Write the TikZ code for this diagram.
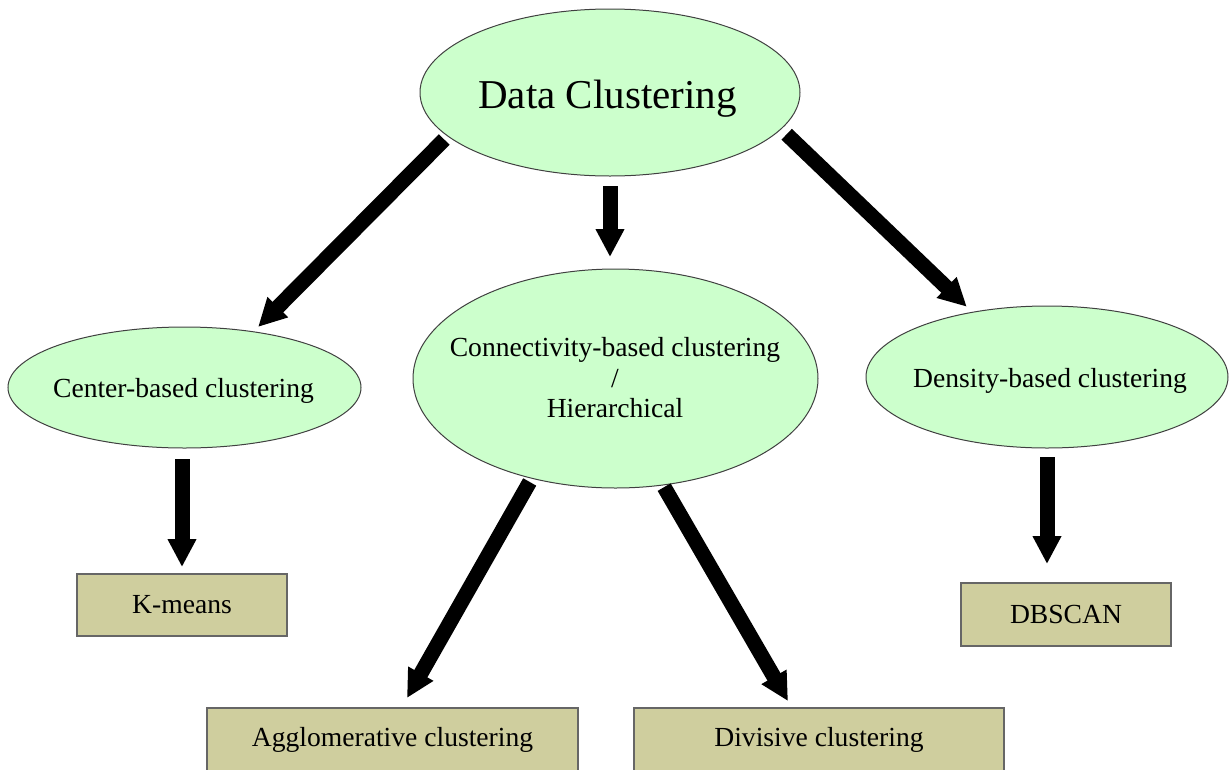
\documentclass[tikz,border=0pt]{standalone}
\usepackage{fontspec}
\setmainfont{Liberation Serif}
\usetikzlibrary{shapes.geometric,arrows.meta}
\definecolor{ellfill}{RGB}{204,255,204}
\definecolor{boxfill}{RGB}{207,206,158}
\begin{document}
\begin{tikzpicture}[x=1pt,y=-1pt,
  ell/.style={ellipse, draw=black!75, line width=1pt, fill=ellfill, inner sep=0pt, outer sep=0pt},
  kbox/.style={rectangle, draw=black!60, line width=1.2pt, fill=boxfill, inner sep=0pt, outer sep=0pt, font=\fontsize{27.6}{30.5}\selectfont},
  lbl/.style={inner sep=0pt, font=\fontsize{27.6}{30.5}\selectfont, align=center},
  arr/.style={line width=15pt, -{Triangle[width=27pt,length=28pt]}}]
\useasboundingbox (0,0) rectangle (1229,769);
% ellipses
\node[ell, minimum width=380, minimum height=167] (dc) at (610,92.5) {};
\node[ell, minimum width=353, minimum height=121] (cb) at (184.5,387.5) {};
\node[ell, minimum width=405, minimum height=219] (cc) at (615.5,378.5) {};
\node[ell, minimum width=362, minimum height=142] (db) at (1047,377) {};
% ellipse texts
\node[lbl, font=\fontsize{41}{49}\selectfont] (dct) at (607.5,98.5) {Data Clustering};
\node[lbl] (cbt) at (183.5,390.6) {Center-based clustering};
\node[lbl] (cct) at (615,378) {Connectivity-based clustering\\/\\Hierarchical};
\node[lbl] (dbt) at (1050,380.6) {Density-based clustering};
% boxes
\node[kbox, minimum width=210, minimum height=62] (km) at (182,605) {K-means};
\node[kbox, minimum width=210, minimum height=63] (dbs) at (1066,614.5) {DBSCAN};
\node[kbox, minimum width=371, minimum height=64] (ag) at (392.5,740) {Agglomerative clustering};
\node[kbox, minimum width=370, minimum height=64] (dv) at (819,740) {Divisive clustering};
% arrows
\draw[arr, shorten <=5pt, shorten >=6.8pt] (dc.195.2) -- (cb.39.0);
\draw[arr, shorten <=10pt, shorten >=12pt] (dc.south) -- (dc.south |- cc.north);
\draw[arr, shorten <=7.8pt, shorten >=8pt] (dc.348.5) -- (db.139.8);
\draw[arr, shorten <=11pt, shorten >=7pt] (km.north |- cb.south) -- (km.north);
\draw[arr, shorten <=9pt, shorten >=19pt] (db.south) -- (db.south |- dbs.north);
\draw[arr, shorten <=4.3pt, shorten >=11.5pt] (cc.230.1) -- ([xshift=8.8pt]ag.north);
\draw[arr, shorten <=2.5pt, shorten >=8pt] (cc.294.4) -- ([xshift=-27pt]dv.north);
\end{tikzpicture}
\end{document}
